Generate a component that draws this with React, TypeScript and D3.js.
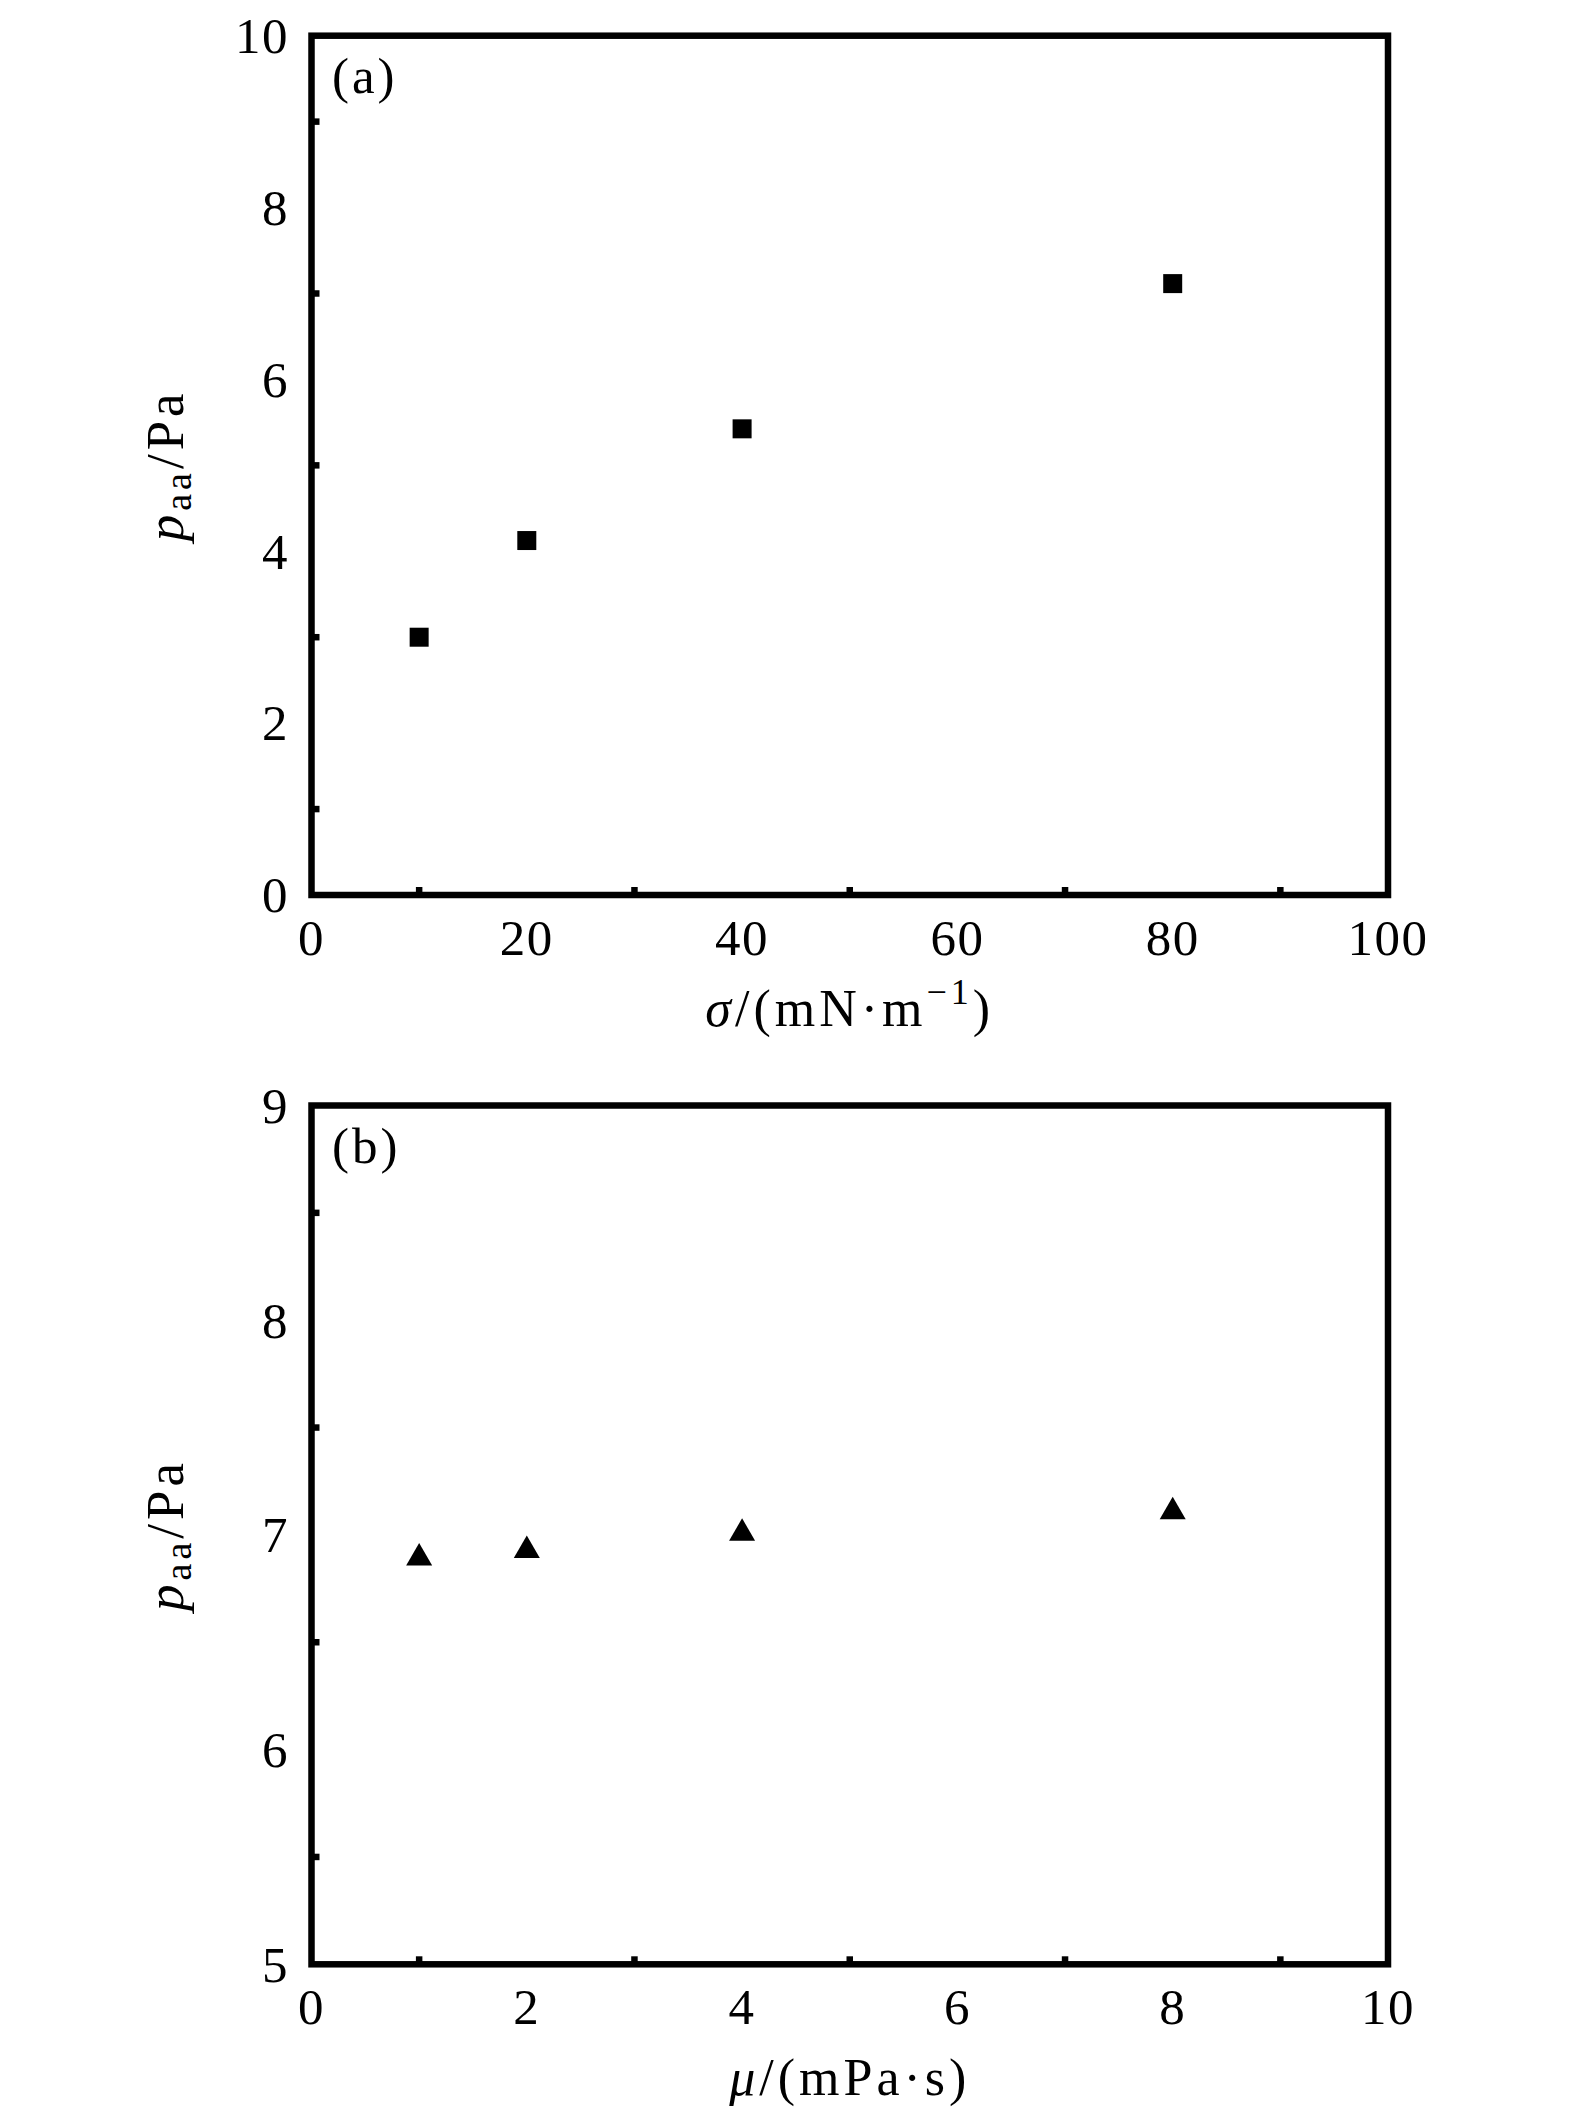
import React from "react";
import * as d3 from "d3";

// Panel (a): surface tension vs pressure
const sigmaVals = [10, 20, 40, 80];
const pA = [3.0, 4.125, 5.425, 7.115];
const aXTicks = [0, 20, 40, 60, 80, 100];
const aYTicks = [0, 2, 4, 6, 8, 10];
const aXMinor = [10, 30, 50, 70, 90];
const aYMinor = [1, 3, 5, 7, 9];

// Panel (b): viscosity vs pressure
const muVals = [1, 2, 4, 8];
const pB = [6.91, 6.945, 7.025, 7.125];
const bXTicks = [0, 2, 4, 6, 8, 10];
const bYTicks = [5, 6, 7, 8, 9];
const bXMinor = [1, 3, 5, 7, 9];
const bYMinor = [5.5, 6.5, 7.5, 8.5];

const FONT = "'Liberation Serif', 'Times New Roman', serif";
const SW = 6.5;

function Panel(props: any) {
  const { top, bottom, xDom, yDom, xTicks, yTicks, xMinor, yMinor, xs, ys, marker, label, xTitle } = props;
  const left = 311.5, right = 1388;
  const x = d3.scaleLinear().domain(xDom).range([left, right]);
  const y = d3.scaleLinear().domain(yDom).range([bottom, top]);
  const fs = 51;
  let path = "";
  let offY = 0;
  if (marker === "square") {
    path = d3.symbol().type(d3.symbolSquare).size(19 * 19)() as string;
  } else {
    const side = 26;
    path = d3.symbol().type(d3.symbolTriangle).size((Math.sqrt(3) / 4) * side * side)() as string;
    offY = (side * Math.sqrt(3) / 2) / 6;
  }
  const cy = (top + bottom) / 2;
  const cx = (left + right) / 2;
  return (
    <g>
      <rect x={left} y={top} width={right - left} height={bottom - top} fill="none" stroke="#000" strokeWidth={SW} />
      {xMinor.map((t: number) => (
        <line key={"xm" + t} x1={x(t)} x2={x(t)} y1={bottom} y2={bottom - 8} stroke="#000" strokeWidth={SW} />
      ))}
      {yMinor.map((t: number) => (
        <line key={"ym" + t} x1={left} x2={left + 8} y1={y(t)} y2={y(t)} stroke="#000" strokeWidth={SW} />
      ))}
      {xTicks.map((t: number) => (
        <text key={"xt" + t} x={x(t)} y={bottom + 60} textAnchor="middle" fontFamily={FONT} fontSize={fs} letterSpacing={1.5}>{t}</text>
      ))}
      {yTicks.map((t: number) => (
        <text key={"yt" + t} x={289} y={y(t)} dy="0.34em" textAnchor="end" fontFamily={FONT} fontSize={fs} letterSpacing={1.5}>{t}</text>
      ))}
      {xs.map((v: number, i: number) => (
        <path key={"m" + i} d={path} transform={`translate(${x(v)},${y(ys[i]) + offY})`} fill="#000" />
      ))}
      <text x={332} y={top + 57} fontFamily={FONT} fontSize={fs} letterSpacing={3}>{label}</text>
      <text transform={`translate(183,${cy}) rotate(-90)`} textAnchor="middle" fontFamily={FONT} fontSize={53} letterSpacing={4}>
        <tspan fontStyle="italic">p</tspan>
        <tspan fontSize={38} dy={8}>aa</tspan>
        <tspan dy={-8}>/Pa</tspan>
      </text>
      <text x={cx} y={bottom + 131} textAnchor="middle" fontFamily={FONT} fontSize={52} letterSpacing={4}>
        {xTitle}
      </text>
    </g>
  );
}

export default function App() {
  return (
    <svg width={1575} height={2116} style={{ position: "absolute", left: 0, top: 0, background: "#fff" }}>
      <rect x={0} y={0} width={1575} height={2116} fill="#fff" />
      <Panel
        top={35.7}
        bottom={895}
        xDom={[0, 100]}
        yDom={[0, 10]}
        xTicks={aXTicks}
        yTicks={aYTicks}
        xMinor={aXMinor}
        yMinor={aYMinor}
        xs={sigmaVals}
        ys={pA}
        marker="square"
        label="(a)"
        xTitle={
          <>
            <tspan fontStyle="italic">σ</tspan>
            <tspan>/(mN·m</tspan>
            <tspan fontSize={36} dy={-22}>−1</tspan>
            <tspan dy={22}>)</tspan>
          </>
        }
      />
      <Panel
        top={1105.5}
        bottom={1964.3}
        xDom={[0, 10]}
        yDom={[5, 9]}
        xTicks={bXTicks}
        yTicks={bYTicks}
        xMinor={bXMinor}
        yMinor={bYMinor}
        xs={muVals}
        ys={pB}
        marker="triangle"
        label="(b)"
        xTitle={
          <>
            <tspan fontStyle="italic">μ</tspan>
            <tspan>/(mPa·s)</tspan>
          </>
        }
      />
    </svg>
  );
}
